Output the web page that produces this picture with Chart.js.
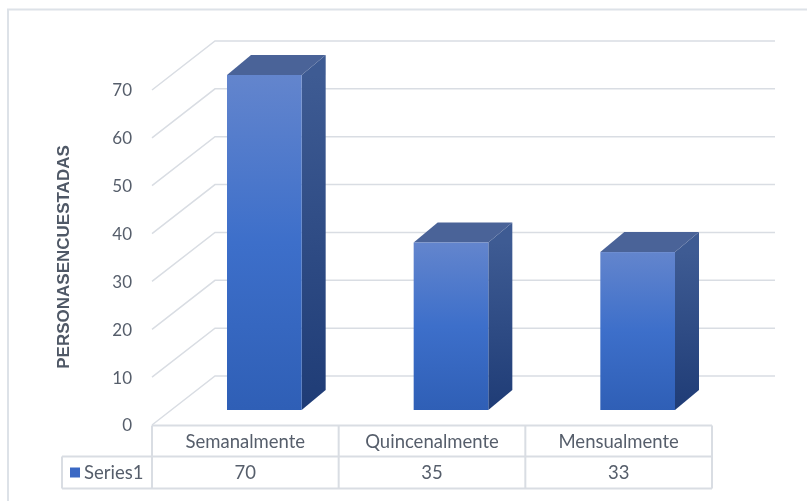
<!DOCTYPE html>
<html>
<head>
<meta charset="utf-8">
<script src="https://cdn.jsdelivr.net/npm/chart.js@4.4.0/dist/chart.umd.min.js"></script>
<style>
  html, body { margin: 0; padding: 0; background: #ffffff; }
  #wrap { width: 807px; height: 501px; position: relative; }
</style>
</head>
<body>
<div id="wrap"><canvas id="c" width="807" height="501"></canvas></div>
<script>
// ---- data ----
const categories = ['Semanalmente', 'Quincenalmente', 'Mensualmente'];
const seriesName = 'Series1';
const seriesValues = [70, 35, 33];
const yTicks = [0, 10, 20, 30, 40, 50, 60, 70];
const axisTitle = 'PERSONASENCUESTADAS';

// ---- style ----
const TEXT = '#565e6b';
const GRID = '#d9dde3';
const BACK = { dx: 63, dy: -49 };     // back wall offset from front plane
const BARF = { dx: 19, dy: -15 };     // bar front face offset
const BARD = { dx: 24, dy: -20 };     // bar depth

const threeD = {
  id: 'threeD',
  beforeDatasetsDraw(chart) {
    const ctx = chart.ctx;
    const ca = chart.chartArea;
    const ys = chart.scales.y;
    const xs = chart.scales.x;
    ctx.save();
    // outer chart border (top and left visible)
    ctx.strokeStyle = '#dde2e8';
    ctx.lineWidth = 2;
    ctx.beginPath();
    ctx.moveTo(8, 510); ctx.lineTo(8, 9.5); ctx.lineTo(820, 9.5);
    ctx.stroke();

    // gridlines: back wall + left diagonal wall
    ctx.strokeStyle = GRID;
    ctx.lineWidth = 1.5;
    yTicks.forEach(v => {
      const y = ys.getPixelForValue(v);
      ctx.beginPath();
      ctx.moveTo(ca.left, y);
      ctx.lineTo(ca.left + BACK.dx, y + BACK.dy);
      ctx.lineTo(ca.right + BACK.dx, y + BACK.dy);
      ctx.stroke();
    });

    // tick labels
    ctx.fillStyle = TEXT;
    ctx.font = '17px Lato';
    ctx.textAlign = 'right';
    ctx.textBaseline = 'middle';
    yTicks.forEach(v => {
      ctx.fillText(String(v), ca.left - 20, ys.getPixelForValue(v) + 1);
    });

    // axis title
    ctx.save();
    ctx.translate(64, 257);
    ctx.rotate(-Math.PI / 2);
    ctx.font = 'bold 17px "Liberation Sans"';
    ctx.textAlign = 'center';
    ctx.textBaseline = 'middle';
    ctx.fillStyle = '#4f5866';
    ctx.fillText(axisTitle, 0, 0);
    ctx.restore();

    // data table
    const top = ca.bottom + 0.5;
    const rowH = 31;
    const legendLeft = 62;
    const n = categories.length;
    const colW = (ca.right - ca.left) / n;
    ctx.strokeStyle = GRID;
    ctx.lineWidth = 2;
    ctx.beginPath();
    ctx.moveTo(ca.left, top); ctx.lineTo(ca.right, top);
    ctx.moveTo(legendLeft, top + rowH); ctx.lineTo(ca.right, top + rowH);
    ctx.moveTo(legendLeft, top + 2 * rowH + 1); ctx.lineTo(ca.right, top + 2 * rowH + 1);
    ctx.moveTo(legendLeft, top + rowH); ctx.lineTo(legendLeft, top + 2 * rowH + 1);
    for (let i = 0; i <= n; i++) {
      const x = ca.left + i * colW;
      ctx.moveTo(x, top); ctx.lineTo(x, top + 2 * rowH + 1);
    }
    ctx.stroke();

    ctx.fillStyle = TEXT;
    ctx.font = '18.5px Lato';
    ctx.textAlign = 'center';
    ctx.textBaseline = 'middle';
    categories.forEach((c, i) => {
      const cx = xs.getPixelForValue(i);
      ctx.fillText(c, cx, top + rowH / 2 + 1);
      ctx.fillText(String(seriesValues[i]), cx, top + rowH * 1.5 + 1);
    });
    // legend key
    ctx.fillStyle = '#3a68c4';
    ctx.fillRect(70, top + rowH + 11, 10, 10);
    ctx.fillStyle = TEXT;
    ctx.textAlign = 'left';
    ctx.fillText(seriesName, 84, top + rowH * 1.5 + 1);
    ctx.restore();
  },
  afterDatasetsDraw(chart) {
    const ctx = chart.ctx;
    const meta = chart.getDatasetMeta(0);
    ctx.save();
    meta.data.forEach(bar => {
      const w = bar.width;
      const x0 = bar.x - w / 2 + BARF.dx;
      const x1 = bar.x + w / 2 + BARF.dx;
      const yT = bar.y + BARF.dy;
      const yB = bar.base + BARF.dy;
      // side face
      let g = ctx.createLinearGradient(0, yT, 0, yB);
      g.addColorStop(0, '#3e5b93');
      g.addColorStop(1, '#1f3c76');
      ctx.fillStyle = g;
      ctx.beginPath();
      ctx.moveTo(x1, yT);
      ctx.lineTo(x1 + BARD.dx, yT + BARD.dy);
      ctx.lineTo(x1 + BARD.dx, yB + BARD.dy);
      ctx.lineTo(x1, yB);
      ctx.closePath();
      ctx.fill();
      // top face
      ctx.fillStyle = '#4a6398';
      ctx.beginPath();
      ctx.moveTo(x0, yT);
      ctx.lineTo(x0 + BARD.dx, yT + BARD.dy);
      ctx.lineTo(x1 + BARD.dx, yT + BARD.dy);
      ctx.lineTo(x1, yT);
      ctx.closePath();
      ctx.fill();
      // front face
      g = ctx.createLinearGradient(0, yT, 0, yB);
      g.addColorStop(0, '#6385cd');
      g.addColorStop(0.5, '#3d6fca');
      g.addColorStop(1, '#2f5fb6');
      ctx.fillStyle = g;
      ctx.fillRect(x0, yT, x1 - x0, yB - yT);
    });
    ctx.restore();
  }
};

new Chart(document.getElementById('c'), {
  type: 'bar',
  data: {
    labels: categories,
    datasets: [{
      label: seriesName,
      data: seriesValues,
      backgroundColor: 'rgba(0,0,0,0)',
      borderWidth: 0,
      barPercentage: 0.4,
      categoryPercentage: 1.0
    }]
  },
  options: {
    responsive: false,
    animation: false,
    layout: { padding: { left: 152, right: 95, top: 90, bottom: 76 } },
    plugins: { legend: { display: false }, tooltip: { enabled: false } },
    scales: {
      x: { display: false, offset: true },
      y: { display: false, min: 0, max: 70 }
    }
  },
  plugins: [threeD]
});
</script>
</body>
</html>
